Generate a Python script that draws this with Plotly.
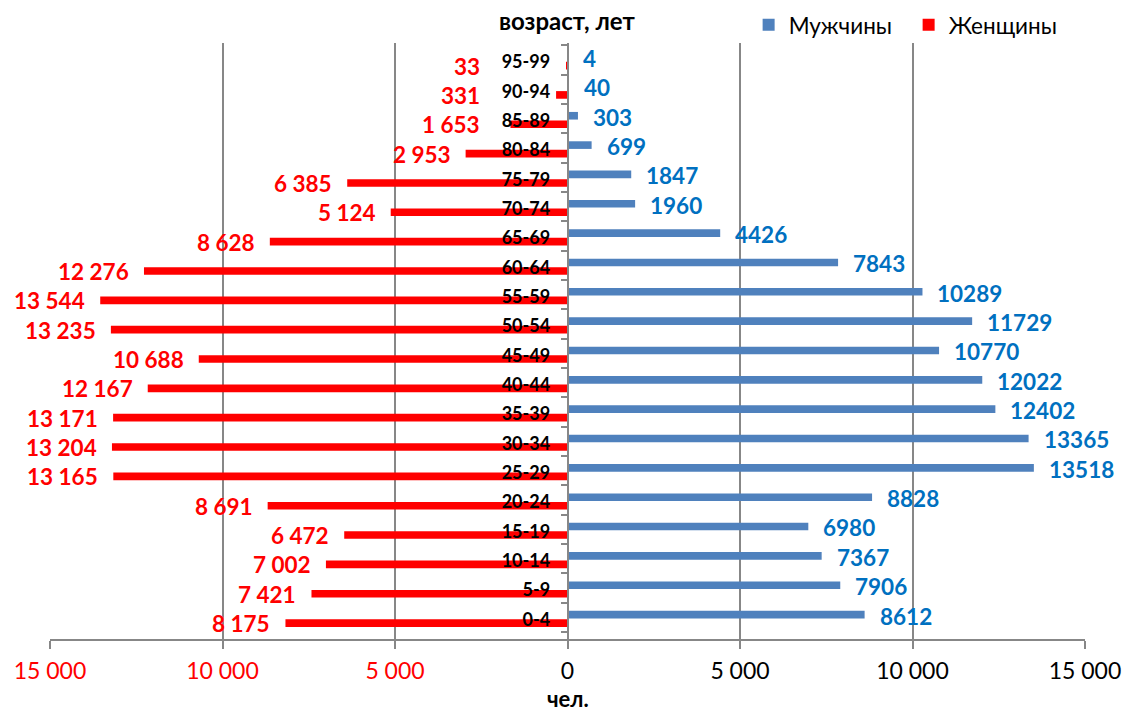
import plotly.graph_objects as go

# ---------------- data ----------------
ages = ["0-4", "5-9", "10-14", "15-19", "20-24", "25-29", "30-34", "35-39", "40-44",
        "45-49", "50-54", "55-59", "60-64", "65-69", "70-74", "75-79", "80-84",
        "85-89", "90-94", "95-99"]
men = [8612, 7906, 7367, 6980, 8828, 13518, 13365, 12402, 12022, 10770,
       11729, 10289, 7843, 4426, 1960, 1847, 699, 303, 40, 4]
women = [8175, 7421, 7002, 6472, 8691, 13165, 13204, 13171, 12167, 10688,
         13235, 13544, 12276, 8628, 5124, 6385, 2953, 1653, 331, 33]
x_tick_vals = [-15000, -10000, -5000, 0, 5000, 10000, 15000]
x_tick_labels = ["15 000", "10 000", "5 000", "0", "5 000", "10 000", "15 000"]

MEN_COLOR = "#4F81BD"
WOMEN_COLOR = "#FF0000"
MEN_LABEL = "#0070C0"
GRID = "#878787"
FONT = "Lato"
# women labels are kept clear of the centre category labels
WOMEN_LABEL_MIN = 2100


def fmt_space(v):
    return f"{v:,}".replace(",", " ")


fig = go.Figure()
fig.add_trace(go.Bar(
    y=ages, x=men, orientation="h", name="Мужчины",
    marker=dict(color=MEN_COLOR, line=dict(width=0)),
    width=0.26, offset=-0.03, hoverinfo="skip"))
fig.add_trace(go.Bar(
    y=ages, x=[-v for v in women], orientation="h", name="Женщины",
    marker=dict(color=WOMEN_COLOR, line=dict(width=0)),
    width=0.26, offset=-0.32, hoverinfo="skip"))

annotations = []
for a, m in zip(ages, men):
    annotations.append(dict(
        x=m, y=a, xref="x", yref="y", text=str(m), showarrow=False,
        xanchor="left", yanchor="middle", xshift=13, yshift=1.5,
        font=dict(family=FONT, size=22.5, color=MEN_LABEL, weight="bold")))
for a, w in zip(ages, women):
    annotations.append(dict(
        x=-max(w, WOMEN_LABEL_MIN), y=a, xref="x", yref="y", text=fmt_space(w),
        showarrow=False, xanchor="right", yanchor="middle", xshift=-13, yshift=-6,
        font=dict(family=FONT, size=22.5, color=WOMEN_COLOR, weight="bold")))

annotations.append(dict(
    x=0, y=1.037, xref="x", yref="paper", text="возраст, лет", showarrow=False,
    xanchor="center", yanchor="middle",
    font=dict(family=FONT, size=24, color="black", weight="bold")))
annotations.append(dict(
    x=0, y=-0.1, xref="x", yref="paper", text="чел.", showarrow=False,
    xanchor="center", yanchor="middle",
    font=dict(family=FONT, size=22, color="black", weight="bold")))

tick_text = []
for v, t in zip(x_tick_vals, x_tick_labels):
    if v < 0:
        tick_text.append(f"<span style='color:{WOMEN_COLOR}'>{t}</span>")
    else:
        tick_text.append(t)

fig.update_layout(
    width=1126, height=712,
    margin=dict(l=50, r=41, t=43, b=73, pad=0, autoexpand=False),
    paper_bgcolor="white", plot_bgcolor="white",
    barmode="overlay",
    showlegend=True,
    legend=dict(orientation="h", x=0.675, xanchor="left", y=1.03, yanchor="middle",
                font=dict(family=FONT, size=22.5, color="black"),
                bgcolor="rgba(0,0,0,0)", traceorder="normal",
                entrywidth=115, entrywidthmode="pixels"),
    annotations=annotations,
    font=dict(family=FONT, color="black"),
    xaxis=dict(
        range=[-15000, 15000], tickmode="array", tickvals=x_tick_vals, ticktext=tick_text,
        showgrid=True, gridcolor=GRID, gridwidth=1.5, zeroline=False,
        showline=True, linecolor=GRID, linewidth=2,
        ticks="outside", ticklen=8, tickcolor=GRID, tickwidth=1.5,
        tickfont=dict(family=FONT, size=23, color="black"),
        ticklabelstandoff=2, fixedrange=True, automargin=False),
    yaxis=dict(
        type="category", categoryorder="array", categoryarray=ages,
        anchor="free", position=0.5,
        showline=True, linecolor=GRID, linewidth=1.5, showgrid=False, zeroline=False,
        ticks="outside", tickson="boundaries", ticklen=6, tickcolor=GRID, tickwidth=1.5,
        tickfont=dict(family=FONT, size=18, color="black", weight="bold"),
        ticklabelstandoff=13, ticklabelshift=2, fixedrange=True, automargin=False),
)

fig.write_html("out.html", config={"displayModeBar": False},
               post_script="document.body.style.margin='0';")
